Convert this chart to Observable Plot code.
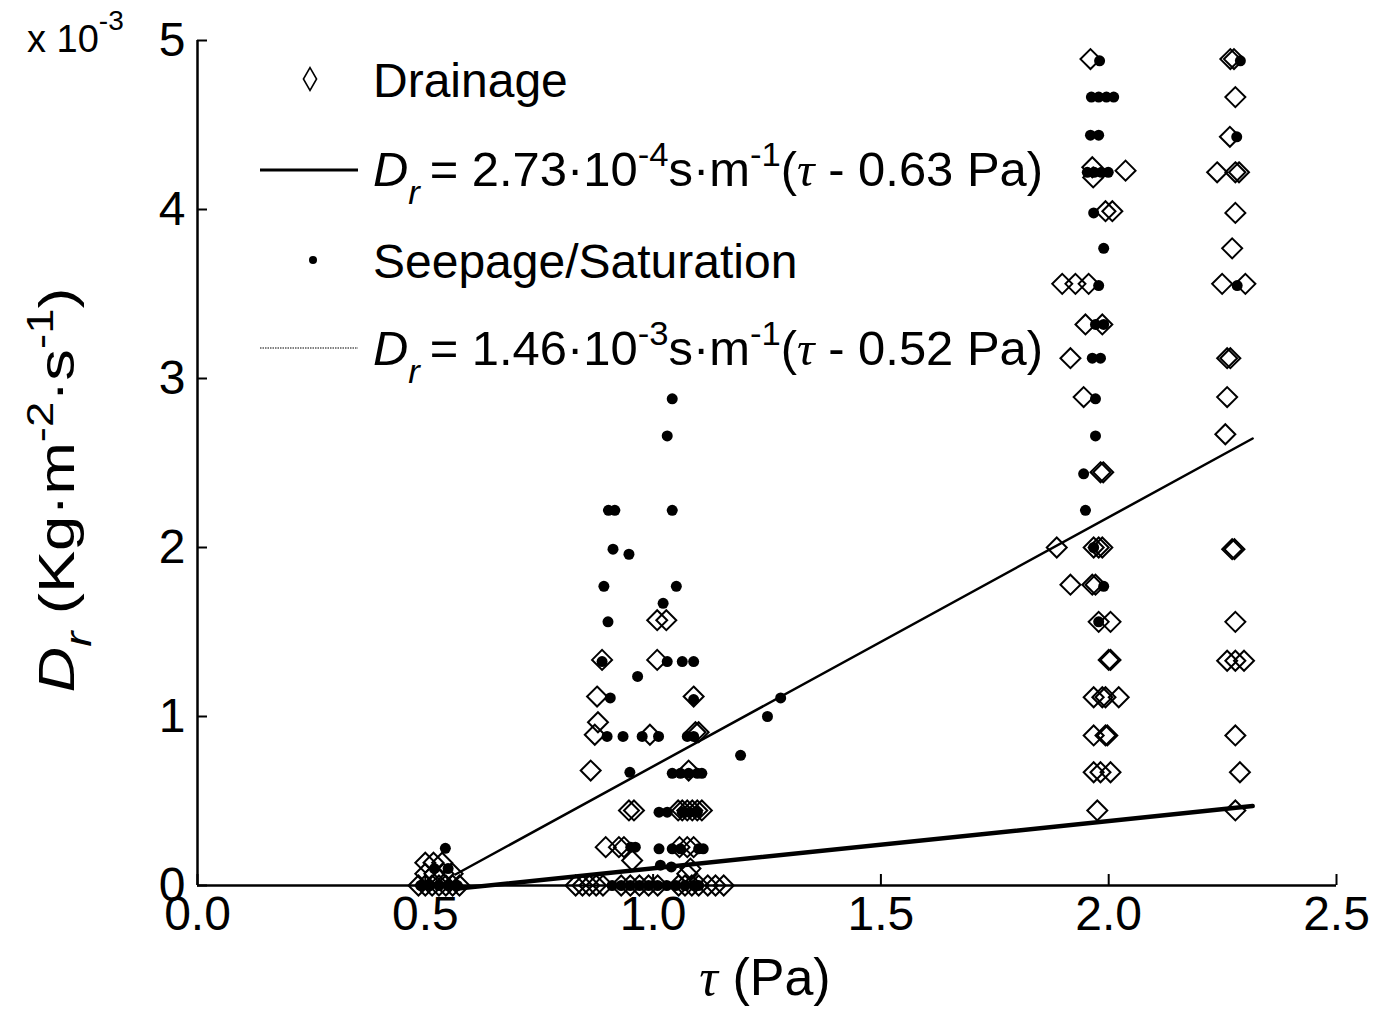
<!DOCTYPE html>
<html>
<head>
<meta charset="utf-8">
<script src="https://cdn.jsdelivr.net/npm/d3@7"></script>
<script src="https://cdn.jsdelivr.net/npm/@observablehq/plot@0.6"></script>
<style>
  html, body { margin: 0; padding: 0; background: white; }
  #chart svg { display: block; }
</style>
</head>
<body>
<div id="chart"></div>
<script>
// ---- tick values ----
const xTicks = [0, 0.5, 1.0, 1.5, 2.0, 2.5];
const yTicks = [0, 1, 2, 3, 4, 5];

// ---- Drainage observations [tau (Pa), Dr (x10^-3 kg m^-2 s^-1)] ----
const drainageLow = [
  [0.485, 0], [0.50, 0], [0.515, 0], [0.53, 0], [0.545, 0], [0.56, 0], [0.575, 0],
  [0.50, 0.07], [0.52, 0.07], [0.54, 0.07], [0.56, 0.07],
  [0.50, 0.135], [0.518, 0.135], [0.537, 0.135]
];
const drainageMid = [
  [1.009, 1.57], [1.029, 1.57],
  [0.888, 1.335], [1.009, 1.335],
  [0.877, 1.118], [1.089, 1.118],
  [0.879, 0.966], [0.872, 0.892], [0.993, 0.892], [1.093, 0.907], [1.10, 0.907],
  [0.863, 0.68], [1.078, 0.68],
  [0.947, 0.444], [0.958, 0.444], [1.055, 0.444], [1.064, 0.444], [1.075, 0.444], [1.086, 0.444], [1.097, 0.444], [1.107, 0.444],
  [0.896, 0.227], [0.925, 0.227], [0.936, 0.227], [1.058, 0.227], [1.075, 0.227], [1.089, 0.227],
  [0.954, 0.148], [1.082, 0.10], [1.075, 0.07],
  [0.83, 0], [0.845, 0], [0.86, 0], [0.875, 0], [0.89, 0], [0.93, 0], [0.95, 0], [0.97, 0], [0.99, 0], [1.01, 0],
  [1.056, 0], [1.07, 0], [1.085, 0], [1.10, 0], [1.12, 0], [1.137, 0], [1.155, 0]
];
const drainageHigh = [
  [1.96, 4.89], [1.964, 4.25], [1.966, 4.19], [2.037, 4.23], [1.993, 3.99], [2.008, 3.99],
  [1.898, 3.56], [1.927, 3.56], [1.956, 3.56], [1.949, 3.32], [1.986, 3.32], [1.916, 3.12],
  [1.945, 2.89], [1.982, 2.445], [1.988, 2.445],
  [1.886, 2.0], [1.967, 2.0], [1.978, 2.0], [1.986, 2.0],
  [1.916, 1.78], [1.964, 1.78], [1.971, 1.78], [1.978, 1.56], [2.004, 1.56],
  [2.0, 1.335], [2.004, 1.335], [1.967, 1.114], [1.986, 1.114], [1.993, 1.114], [2.022, 1.114],
  [1.967, 0.888], [1.993, 0.888], [1.997, 0.888], [1.967, 0.67], [1.982, 0.67], [2.004, 0.67], [1.975, 0.444]
];
const drainageTop = [
  [2.267, 4.89], [2.275, 4.89], [2.278, 4.665], [2.266, 4.43], [2.238, 4.22], [2.278, 4.22], [2.286, 4.22],
  [2.278, 3.98], [2.271, 3.77], [2.249, 3.56], [2.30, 3.56], [2.26, 3.12], [2.267, 3.12], [2.26, 2.89], [2.256, 2.67],
  [2.271, 1.99], [2.276, 1.99], [2.278, 1.56], [2.26, 1.33], [2.278, 1.33], [2.297, 1.33],
  [2.278, 0.888], [2.288, 0.67], [2.278, 0.444]
];

// ---- Seepage / Saturation observations ----
const seepageLow = [
  [0.49, 0], [0.51, 0], [0.53, 0], [0.55, 0], [0.57, 0], [0.52, 0.1], [0.55, 0.1], [0.544, 0.22]
];
const seepageMid = [
  [1.042, 2.88], [1.031, 2.66], [0.902, 2.22], [0.916, 2.22], [1.042, 2.22], [0.912, 1.99], [0.947, 1.96],
  [0.892, 1.77], [1.051, 1.77], [1.022, 1.67], [0.901, 1.56], [0.888, 1.325], [1.031, 1.325], [1.064, 1.325], [1.089, 1.325],
  [0.966, 1.237], [0.906, 1.11], [1.089, 1.10],
  [0.899, 0.882], [0.934, 0.882], [0.976, 0.882], [1.012, 0.882], [1.075, 0.882], [1.089, 0.882],
  [1.192, 0.77], [1.251, 1.0], [1.28, 1.11],
  [0.949, 0.67], [1.042, 0.664], [1.06, 0.664], [1.078, 0.664], [1.097, 0.664], [1.107, 0.664],
  [1.013, 0.434], [1.031, 0.434], [1.064, 0.434], [1.08, 0.434], [1.097, 0.434],
  [0.951, 0.227], [0.961, 0.227], [1.013, 0.217], [1.042, 0.217], [1.06, 0.217], [1.10, 0.217], [1.11, 0.217],
  [1.016, 0.12], [1.04, 0.11],
  [0.91, 0], [0.93, 0], [0.95, 0], [0.97, 0], [0.99, 0], [1.01, 0], [1.03, 0], [1.05, 0], [1.07, 0], [1.09, 0], [1.10, 0]
];
const seepageHigh = [
  [1.98, 4.88], [1.962, 4.665], [1.978, 4.665], [1.995, 4.665], [2.011, 4.665], [1.96, 4.44], [1.978, 4.44],
  [1.953, 4.22], [1.968, 4.22], [1.984, 4.22], [1.999, 4.22], [1.967, 3.98], [1.989, 3.77], [1.978, 3.55],
  [1.971, 3.32], [1.989, 3.32], [1.964, 3.12], [1.982, 3.12], [1.971, 2.88], [1.971, 2.66], [1.945, 2.436],
  [1.949, 2.22], [1.967, 2.0], [1.989, 1.77], [1.978, 1.56]
];
const seepageTop = [[2.289, 4.88], [2.281, 4.43], [2.282, 3.55]];

// ---- fitted lines (end points) ----
const fitDrainage = [[0.566, -0.02], [2.316, 0.47]];
const fitSeepage = [[0.566, 0.065], [2.316, 2.645]];

const drainage = [...drainageLow, ...drainageMid, ...drainageHigh, ...drainageTop];
const seepage = [...seepageLow, ...seepageMid, ...seepageHigh, ...seepageTop];

const plot = Plot.plot({
  width: 1381,
  height: 1009,
  marginLeft: 197,
  marginRight: 45,
  marginTop: 40,
  marginBottom: 124,
  x: { domain: [0, 2.5] },
  y: { domain: [0, 5] },
  style: { fontFamily: "'Liberation Sans', Arial, sans-serif", fontSize: "48px", color: "black", background: "white" },
  marks: [
    Plot.axisX(xTicks, { tickSize: 0, tickPadding: 10, tickFormat: d3.format(".1f"), label: null, fontSize: 48 }),
    Plot.axisY(yTicks, { tickSize: 0, tickPadding: 12, tickFormat: d3.format("d"), label: null, fontSize: 48 }),
    Plot.ruleX(xTicks, { x: d => d, y1: 0, y2: 0.065, stroke: "black", strokeWidth: 2 }),
    Plot.ruleY(yTicks, { y: d => d, x1: 0, x2: 0.022, stroke: "black", strokeWidth: 2 }),
    Plot.ruleX([0], { stroke: "black", strokeWidth: 2.5 }),
    Plot.ruleY([0], { stroke: "black", strokeWidth: 2.5 }),
    Plot.dot(drainage, { x: d => d[0], y: d => d[1], symbol: "diamond2", r: 9, stroke: "black", strokeWidth: 2, fill: "none" }),
    Plot.dot(seepage, { x: d => d[0], y: d => d[1], r: 5.5, fill: "black", stroke: "none" }),
    Plot.line(fitDrainage, { x: d => d[0], y: d => d[1], stroke: "black", strokeWidth: 4.5 }),
    Plot.line(fitSeepage, { x: d => d[0], y: d => d[1], stroke: "black", strokeWidth: 2.5 })
  ]
});

document.getElementById("chart").appendChild(plot);

const svg = d3.select(plot);
const F = "'Liberation Sans', Arial, sans-serif";
const serif = "'Liberation Serif', 'DejaVu Serif', serif";

// ---- exponent note ----
const ex = svg.append("text").attr("x", 27).attr("y", 52).attr("text-anchor", "start")
  .attr("font-family", F).attr("font-size", 38).attr("fill", "black");
ex.append("tspan").text("x 10");
ex.append("tspan").attr("font-size", 28).attr("dy", -22).text("-3");

// ---- axis titles ----
const xl = svg.append("text").attr("x", 765).attr("y", 995).attr("text-anchor", "middle")
  .attr("font-family", F).attr("font-size", 52).attr("fill", "black");
xl.append("tspan").attr("font-family", serif).attr("font-style", "italic").text("τ");
xl.append("tspan").text(" (Pa)");

const yl = svg.append("text").attr("transform", "translate(74,490) rotate(-90)").attr("text-anchor", "middle")
  .attr("font-family", F).attr("font-size", 50).attr("fill", "black")
  .attr("textLength", 405).attr("lengthAdjust", "spacingAndGlyphs");
yl.append("tspan").attr("font-style", "italic").text("D");
yl.append("tspan").attr("font-style", "italic").attr("font-size", 36).attr("dy", 17).text("r");
yl.append("tspan").attr("dy", -17).text(" (Kg·m");
yl.append("tspan").attr("font-size", 36).attr("dy", -21).text("-2");
yl.append("tspan").attr("dy", 21).text("·s");
yl.append("tspan").attr("font-size", 36).attr("dy", -21).text("-1");
yl.append("tspan").attr("dy", 21).text(")");

// ---- legend ----
const lg = svg.append("g").attr("text-anchor", "start");
lg.append("path").attr("d", d3.symbol(d3.symbolDiamond, 150)()).attr("transform", "translate(310,79)")
  .attr("fill", "none").attr("stroke", "black").attr("stroke-width", 1.6);
lg.append("text").attr("x", 373).attr("y", 97).attr("text-anchor", "start").attr("font-family", F)
  .attr("font-size", 48).attr("fill", "black").text("Drainage");

lg.append("line").attr("x1", 260).attr("x2", 358).attr("y1", 170).attr("y2", 170).attr("stroke", "black").attr("stroke-width", 3);
function eq(y, coef, exp, off) {
  const t = lg.append("text").attr("x", 373).attr("y", y).attr("text-anchor", "start")
    .attr("font-family", F).attr("font-size", 48).attr("fill", "black")
    .attr("textLength", 670).attr("lengthAdjust", "spacingAndGlyphs");
  t.append("tspan").attr("font-style", "italic").text("D");
  t.append("tspan").attr("font-style", "italic").attr("font-size", 34).attr("dy", 18).text("r");
  t.append("tspan").attr("dy", -18).text("\u2009= " + coef + "·10");
  t.append("tspan").attr("font-size", 34).attr("dy", -20).text(exp);
  t.append("tspan").attr("dy", 20).text("s·m");
  t.append("tspan").attr("font-size", 34).attr("dy", -20).text("-1");
  t.append("tspan").attr("dy", 20).text("(");
  t.append("tspan").attr("font-family", serif).attr("font-style", "italic").text("τ");
  t.append("tspan").text(" - " + off + " Pa)");
}
eq(186, "2.73", "-4", "0.63");

lg.append("circle").attr("cx", 313).attr("cy", 260).attr("r", 4).attr("fill", "black");
lg.append("text").attr("x", 373).attr("y", 278).attr("text-anchor", "start").attr("font-family", F)
  .attr("font-size", 48).attr("fill", "black").text("Seepage/Saturation");

lg.append("line").attr("x1", 260).attr("x2", 358).attr("y1", 348).attr("y2", 348).attr("stroke", "black")
  .attr("stroke-width", 1).attr("stroke-dasharray", "1.5,1");
eq(365, "1.46", "-3", "0.52");
</script>
</body>
</html>
